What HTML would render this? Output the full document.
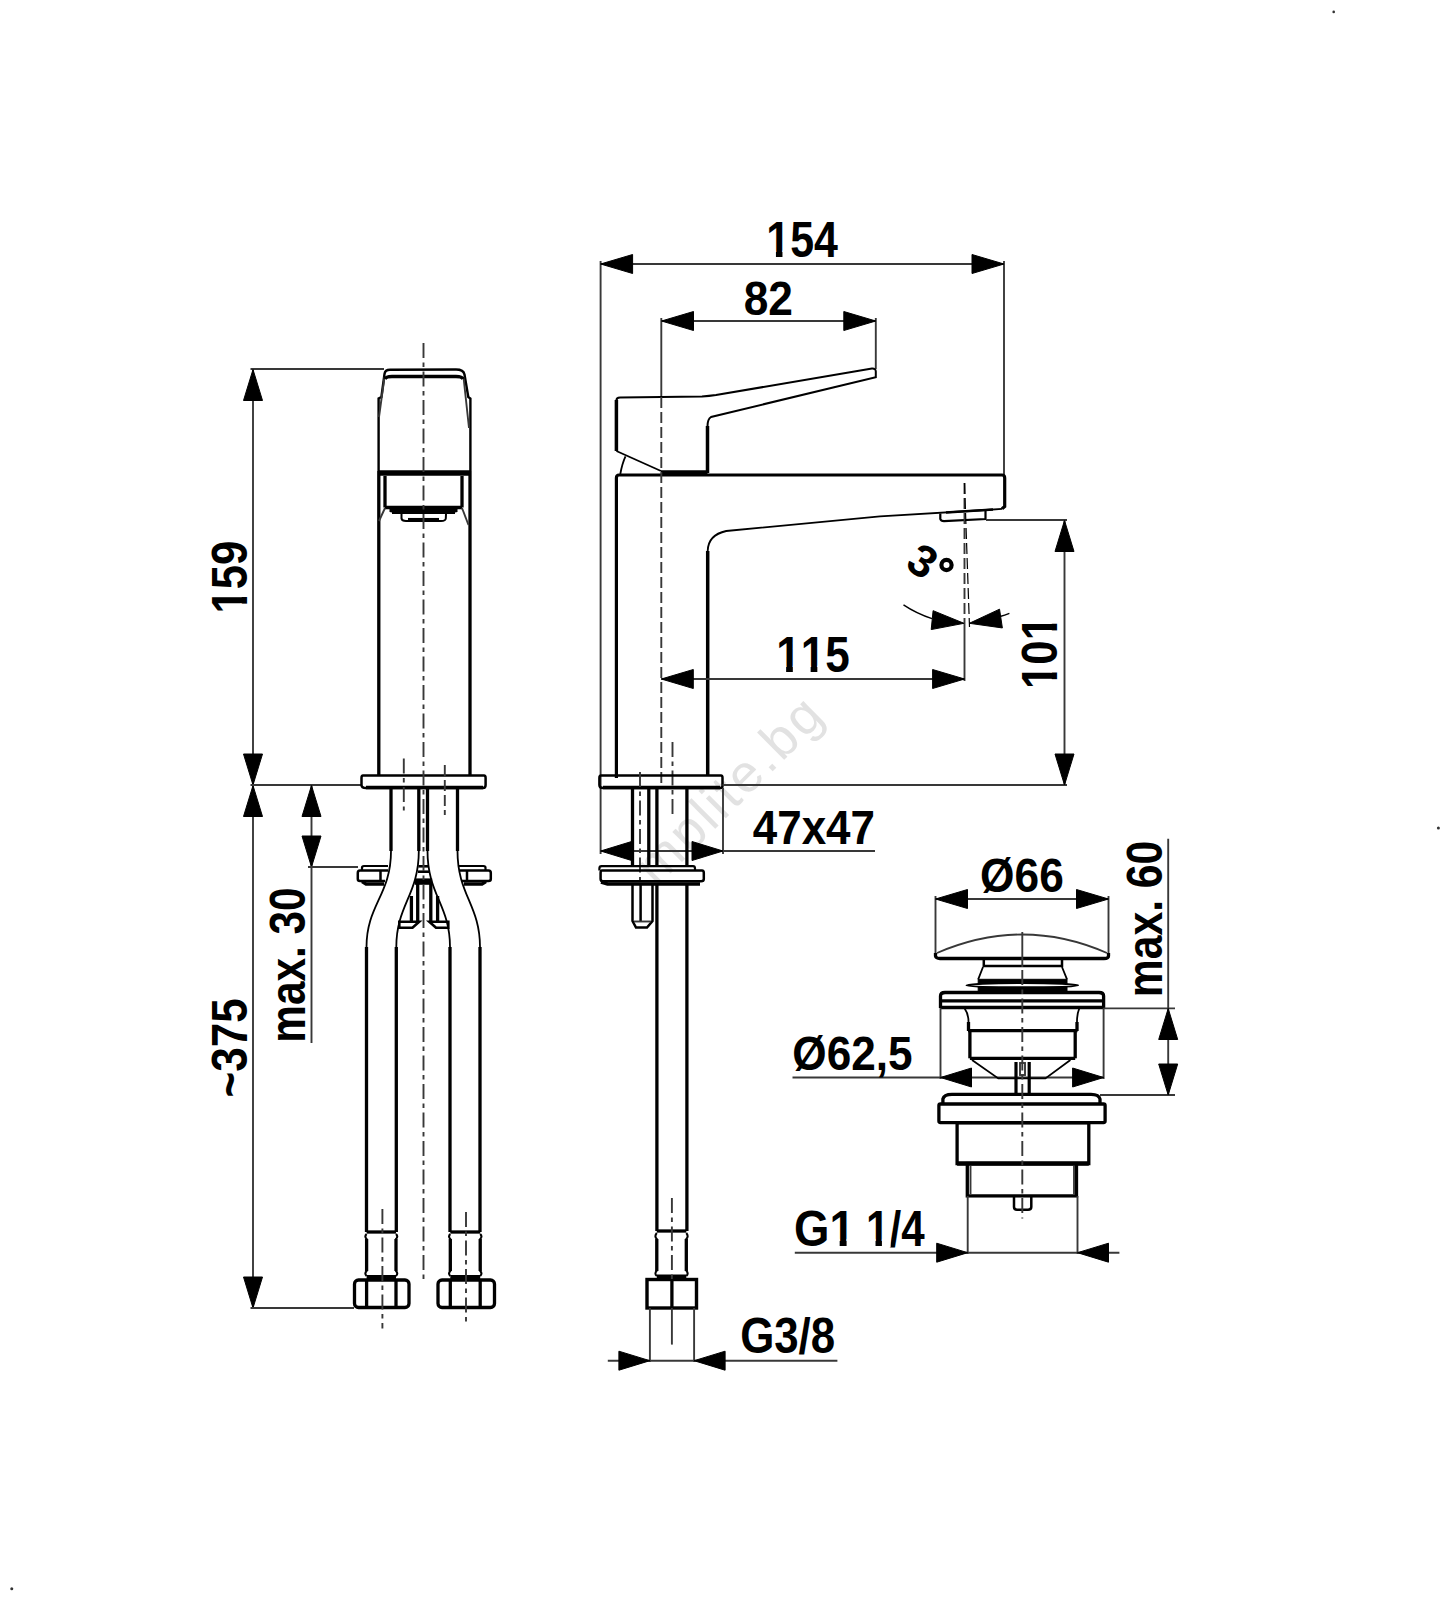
<!DOCTYPE html>
<html><head><meta charset="utf-8"><style>
html,body{margin:0;padding:0;background:#fff;}
svg{display:block;}
text{font-family:"Liberation Sans",sans-serif;font-weight:bold;fill:#000;stroke:none;font-kerning:none;font-feature-settings:"kern" 0;}
</style></head><body>
<svg width="1443" height="1600" viewBox="0 0 1443 1600">
<rect width="1443" height="1600" fill="#fff"/>
<text x="0" y="0" font-size="53" transform="translate(656.5,887.5) rotate(-45)" style="font-weight:normal;fill:#e2e2e2;letter-spacing:3px">mplite.bg</text>
<circle cx="1333.7" cy="11.9" r="1.3" fill="#333" stroke="none"/><circle cx="11.75" cy="1588.8" r="1.5" fill="#333" stroke="none"/><circle cx="1438.4" cy="828.1" r="1.5" fill="#333" stroke="none"/>
<g stroke="#000" fill="none" stroke-linecap="butt" stroke-linejoin="miter">
<line x1="250.5" y1="369" x2="384" y2="369" stroke-width="1.9"  stroke="#383838"/>
<line x1="253" y1="369" x2="253" y2="1308" stroke-width="1.9"  stroke="#383838"/>
<polygon points="253,369.5 262.5,400.5 243.5,400.5" fill="#000" stroke="#000" stroke-width="1" stroke-linejoin="round"/>
<polygon points="253,785 243.5,754 262.5,754" fill="#000" stroke="#000" stroke-width="1" stroke-linejoin="round"/>
<polygon points="253,785.5 262.5,816.5 243.5,816.5" fill="#000" stroke="#000" stroke-width="1" stroke-linejoin="round"/>
<polygon points="253,1308 243.5,1277 262.5,1277" fill="#000" stroke="#000" stroke-width="1" stroke-linejoin="round"/>
<line x1="250.5" y1="785" x2="361" y2="785" stroke-width="1.9"  stroke="#383838"/>
<line x1="250.5" y1="1308" x2="354" y2="1308" stroke-width="1.9"  stroke="#383838"/>
<line x1="311.5" y1="785" x2="311.5" y2="1043" stroke-width="1.9"  stroke="#383838"/>
<polygon points="311.5,785.5 321,816.5 302,816.5" fill="#000" stroke="#000" stroke-width="1" stroke-linejoin="round"/>
<polygon points="311.5,867 302,836 321,836" fill="#000" stroke="#000" stroke-width="1" stroke-linejoin="round"/>
<line x1="308" y1="867" x2="358" y2="867" stroke-width="1.9"  stroke="#383838"/>
<g transform="translate(247.0 613.49) rotate(-90) scale(0.9284 1.075)"><text x="0" y="0" font-size="47">159</text><rect x="0.94" y="-6.34" width="9.66" height="7.95" fill="#fff" stroke="none"/><rect x="17.74" y="-6.34" width="9.63" height="7.95" fill="#fff" stroke="none"/></g>
<g transform="translate(247.2 1097.58) rotate(-90) scale(0.9388 1.0781)"><text x="0" y="0" font-size="47">~375</text></g>
<g transform="translate(305.0 1042.7) rotate(-90) scale(0.9003 1.0625)"><text x="0" y="0" font-size="47">max. 30</text></g>
<path d="M378.6,471 L378.6,398.5 L381.4,397 L384.5,374 Q385,369.8 390,369.8 L456,369.5 Q463.5,369.5 464.5,374.5 L468.3,397 L470.4,398.5 L470.4,471" stroke-width="2.4" fill="none" />
<path d="M384.5,377 L379,417 M463.5,377 L469,428" stroke-width="1.9" fill="none"  stroke="#383838"/>
<path d="M385,379 Q386,376.5 392,376.5 L456,376.5 Q462,376.5 463,379" stroke-width="3.5" fill="none" />
<line x1="378.8" y1="473" x2="470" y2="473" stroke-width="5.5" />
<line x1="378.8" y1="471" x2="378.8" y2="776" stroke-width="3.3" />
<line x1="470" y1="471" x2="470" y2="776" stroke-width="3.3" />
<line x1="385" y1="476" x2="385" y2="507.5" stroke-width="3.3" />
<line x1="462" y1="476" x2="462" y2="507.5" stroke-width="3.3" />
<line x1="385" y1="507.5" x2="462" y2="507.5" stroke-width="3.5" />
<line x1="385" y1="508" x2="379" y2="521" stroke-width="1.9"  stroke="#383838"/>
<line x1="462" y1="508" x2="468.5" y2="525" stroke-width="1.9"  stroke="#383838"/>
<polygon points="389.5,507 457.5,507 457.5,512 455,512.5 455,514 392,514 392,512.5 389.5,512" fill="#000" stroke="none"/>
<path d="M401.5,514 L401.5,518.5 Q402,521 406,521 L441,521 Q445.5,521 445.8,518.5 L446,514" stroke-width="2" fill="none" />
<line x1="408" y1="519.6" x2="439" y2="519.6" stroke-width="3.3" />
<path d="M363,775.6 L484,775.6 Q485.6,775.6 485.6,778 L485.6,785 Q485.6,788 483,788 L366,788 Q361.5,788 361.5,785 L361.5,778 Q361.5,775.6 363,775.6 Z" stroke-width="2.5" fill="none" />
<line x1="366" y1="787.5" x2="483" y2="787.5" stroke-width="3.5" />
<line x1="403.8" y1="758.5" x2="403.8" y2="810.5" stroke-width="1.9" stroke-dasharray="15 4.5 4.5 4.5" stroke="#383838"/>
<line x1="444.8" y1="765" x2="444.8" y2="815" stroke-width="1.9" stroke-dasharray="11 4" stroke="#383838"/>
<line x1="391" y1="788" x2="391" y2="851" stroke-width="3.3" />
<line x1="418.8" y1="788" x2="418.8" y2="851" stroke-width="3.3" />
<line x1="427.5" y1="788" x2="427.5" y2="851" stroke-width="3.3" />
<line x1="457.5" y1="788" x2="457.5" y2="851" stroke-width="3.3" />
<path d="M391,851 C391,895 366.5,905 366.5,947" stroke-width="1.8" fill="none" />
<path d="M418.8,851 C418.8,895 396.3,905 396.3,947" stroke-width="1.8" fill="none" />
<path d="M427.5,851 C427.5,895 450,905 450,947" stroke-width="1.8" fill="none" />
<path d="M457.5,851 C457.5,895 480,905 480,947" stroke-width="1.8" fill="none" />
<path d="M362,870 L362,867.5 Q362,866 364,866 L388,866" stroke-width="2.2" fill="none" />
<path d="M388,870.5 L360,870.5 Q357.8,870.5 357.8,873 L357.8,879 Q357.8,881 360,881 L385,881" stroke-width="2.5" fill="none" />
<path d="M362,881.5 L366,884 L384,884" stroke-width="3.3" fill="none" />
<line x1="380.5" y1="870.5" x2="380.5" y2="881" stroke-width="2.5" />
<path d="M485.5,870 L485.5,867.5 Q485.5,866 483.5,866 L459,866" stroke-width="2.2" fill="none" />
<path d="M459,870.5 L488.5,870.5 Q490.8,870.5 490.8,873 L490.8,879 Q490.8,881 488.5,881 L462,881" stroke-width="2.5" fill="none" />
<path d="M486,881.5 L482,884 L464,884" stroke-width="3.3" fill="none" />
<line x1="467" y1="870.5" x2="467" y2="881" stroke-width="2.5" />
<line x1="414.8" y1="881.6" x2="432.2" y2="881.6" stroke-width="6.4" />
<line x1="417.7" y1="884" x2="417.7" y2="921.7" stroke-width="3.3" />
<line x1="430.8" y1="884" x2="430.8" y2="921.7" stroke-width="3.3" />
<line x1="411.4" y1="896" x2="411.4" y2="921.7" stroke-width="3.3" />
<line x1="437.6" y1="896" x2="437.6" y2="921.7" stroke-width="3.3" />
<path d="M399.3,921.7 L419.2,921.7 L412.5,927.8 L399.3,927.8 Z" stroke-width="2.6" fill="none" />
<path d="M448.3,921.7 L429.3,921.7 L436,927.8 L448.3,927.8 Z" stroke-width="2.6" fill="none" />
<line x1="418.4" y1="866.3" x2="428.8" y2="866.3" stroke-width="2.6" />
<line x1="418" y1="871.7" x2="429.2" y2="871.7" stroke-width="2.6" />
<line x1="366.5" y1="947" x2="366.5" y2="1232" stroke-width="3.3" />
<line x1="396.3" y1="947" x2="396.3" y2="1232" stroke-width="3.3" />
<line x1="450" y1="947" x2="450" y2="1232" stroke-width="3.3" />
<line x1="480" y1="947" x2="480" y2="1232" stroke-width="3.3" />
<line x1="366.6" y1="1232" x2="396" y2="1232" stroke-width="3.3" />
<path d="M366.6,1234 Q364.1,1236.5 366.6,1239 L366.6,1271 Q364.1,1273.5 366.6,1276" stroke-width="2" fill="none" />
<path d="M396,1234 Q398.5,1236.5 396,1239 L396,1271 Q398.5,1273.5 396,1276" stroke-width="2" fill="none" />
<line x1="366.6" y1="1239" x2="366.6" y2="1271" stroke-width="3.3" />
<line x1="396" y1="1239" x2="396" y2="1271" stroke-width="3.3" />
<line x1="366.6" y1="1277" x2="396" y2="1277" stroke-width="4" />
<line x1="450.3" y1="1232" x2="480.2" y2="1232" stroke-width="3.3" />
<path d="M450.3,1234 Q447.8,1236.5 450.3,1239 L450.3,1271 Q447.8,1273.5 450.3,1276" stroke-width="2" fill="none" />
<path d="M480.2,1234 Q482.7,1236.5 480.2,1239 L480.2,1271 Q482.7,1273.5 480.2,1276" stroke-width="2" fill="none" />
<line x1="450.3" y1="1239" x2="450.3" y2="1271" stroke-width="3.3" />
<line x1="480.2" y1="1239" x2="480.2" y2="1271" stroke-width="3.3" />
<line x1="450.3" y1="1277" x2="480.2" y2="1277" stroke-width="4" />
<rect x="354.5" y="1280" width="54.5" height="27.5" rx="4" stroke-width="3.3" fill="none" />
<line x1="366.6" y1="1280" x2="366.6" y2="1307.5" stroke-width="3.3" />
<line x1="396" y1="1280" x2="396" y2="1307.5" stroke-width="3.3" />
<rect x="438" y="1280" width="56.5" height="27.5" rx="4" stroke-width="3.3" fill="none" />
<line x1="450.3" y1="1280" x2="450.3" y2="1307.5" stroke-width="3.3" />
<line x1="480.2" y1="1280" x2="480.2" y2="1307.5" stroke-width="3.3" />
<line x1="382.4" y1="1209" x2="382.4" y2="1328.6" stroke-width="1.9" stroke-dasharray="15 4.5 4.5 4.5" stroke="#383838"/>
<line x1="466" y1="1212" x2="466" y2="1324" stroke-width="1.9" stroke-dasharray="15 4.5 4.5 4.5" stroke="#383838"/>
<line x1="423.5" y1="343" x2="423.5" y2="1282.5" stroke-width="1.9" stroke-dasharray="15 4.5 4.5 4.5" stroke="#383838"/>
<line x1="600.6" y1="261" x2="600.6" y2="854" stroke-width="1.9"  stroke="#383838"/>
<line x1="1004" y1="261" x2="1004" y2="475" stroke-width="1.9"  stroke="#383838"/>
<line x1="600.6" y1="264" x2="1004" y2="264" stroke-width="1.9"  stroke="#383838"/>
<polygon points="600.6,264 632.6,254.5 632.6,273.5" fill="#000" stroke="#000" stroke-width="1" stroke-linejoin="round"/>
<polygon points="1004,264 972,273.5 972,254.5" fill="#000" stroke="#000" stroke-width="1" stroke-linejoin="round"/>
<g transform="translate(766.26 257.2) scale(0.9133 1.0531)"><text x="0" y="0" font-size="47">154</text><rect x="0.94" y="-6.34" width="9.66" height="7.95" fill="#fff" stroke="none"/><rect x="17.74" y="-6.34" width="9.63" height="7.95" fill="#fff" stroke="none"/></g>
<line x1="661.3" y1="318" x2="661.3" y2="397" stroke-width="1.9"  stroke="#383838"/>
<line x1="875.8" y1="318" x2="875.8" y2="369" stroke-width="1.9"  stroke="#383838"/>
<line x1="661.3" y1="321" x2="875.8" y2="321" stroke-width="1.9"  stroke="#383838"/>
<polygon points="661.5,321 693.5,311.5 693.5,330.5" fill="#000" stroke="#000" stroke-width="1" stroke-linejoin="round"/>
<polygon points="875.8,321 843.8,330.5 843.8,311.5" fill="#000" stroke="#000" stroke-width="1" stroke-linejoin="round"/>
<g transform="translate(743.71 315.1) scale(0.9429 1.0375)"><text x="0" y="0" font-size="47">82</text></g>
<path d="M616.4,451 L616.4,400.5 Q616.4,397.5 620,397.5 L702,396.5 Q709,396 716,395 L872,368.6 Q875.8,368.4 875.8,371.5 L875.8,377.1 L711,417 Q707.5,419 707.5,426.5 L707.5,473" stroke-width="2" fill="none" />
<line x1="616.4" y1="400" x2="616.4" y2="451" stroke-width="3.5" />
<line x1="707.5" y1="426" x2="707.5" y2="473" stroke-width="3.5" />
<line x1="616.4" y1="451" x2="661" y2="471" stroke-width="1.8" />
<path d="M625.5,456.4 Q622.2,463.5 620.3,474" stroke-width="1.8" fill="none" />
<line x1="661" y1="473" x2="707.5" y2="473" stroke-width="5.5" />
<path d="M616.4,778 L616.4,478 Q616.4,475 619,475 L1002,475 Q1004.7,475 1004.7,478 L1004.7,506.5 L1002,508.8" stroke-width="3.2" fill="none" />
<path d="M1002,508.8 L986,510 L880,516.3 L726.2,531 Q708,535 707.7,551" stroke-width="1.8" fill="none" />
<line x1="707.7" y1="551" x2="707.7" y2="776" stroke-width="3.5" />
<path d="M940.3,513.5 L940.3,519 Q941,521.2 944,521.2 L985.5,519 L985.5,510.5" stroke-width="2.2" fill="none" />
<line x1="946" y1="512.6" x2="993" y2="509.6" stroke-width="2.5" />
<line x1="661.3" y1="397" x2="661.3" y2="785" stroke-width="1.9" stroke-dasharray="11 4" stroke="#383838"/>
<line x1="672.5" y1="742" x2="672.5" y2="815" stroke-width="1.9" stroke-dasharray="15 4.5 4.5 4.5" stroke="#383838"/>
<path d="M601,775.6 L721,775.6 Q722.5,775.6 722.5,778 L722.5,786 Q722.5,788 720,788 L603,788 Q599.4,788 599.4,785 L599.4,778 Q599.4,775.6 601,775.6 Z" stroke-width="2.5" fill="none" />
<line x1="603" y1="787.5" x2="720" y2="787.5" stroke-width="3.5" />
<line x1="986" y1="520" x2="1067" y2="520" stroke-width="1.9"  stroke="#383838"/>
<line x1="722.5" y1="785" x2="1067" y2="785" stroke-width="1.9"  stroke="#383838"/>
<line x1="1064.5" y1="520" x2="1064.5" y2="785" stroke-width="1.9"  stroke="#383838"/>
<polygon points="1064.5,520.5 1074,551.5 1055,551.5" fill="#000" stroke="#000" stroke-width="1" stroke-linejoin="round"/>
<polygon points="1064.5,785 1055,754 1074,754" fill="#000" stroke="#000" stroke-width="1" stroke-linejoin="round"/>
<g transform="translate(1057.2 689.05) rotate(-90) scale(0.9328 1.0563)"><text x="0" y="0" font-size="47">101</text><rect x="0.94" y="-6.34" width="9.66" height="7.95" fill="#fff" stroke="none"/><rect x="17.74" y="-6.34" width="9.63" height="7.95" fill="#fff" stroke="none"/><rect x="53.22" y="-6.34" width="9.66" height="7.95" fill="#fff" stroke="none"/><rect x="70.02" y="-6.34" width="9.63" height="7.95" fill="#fff" stroke="none"/></g>
<line x1="964.5" y1="483" x2="964.5" y2="620" stroke-width="1.9" stroke-dasharray="11 4" stroke="#383838"/>
<line x1="964.5" y1="620" x2="964.5" y2="681" stroke-width="1.9"  stroke="#383838"/>
<line x1="964.5" y1="483" x2="969.5" y2="627" stroke-width="1.2" stroke-dasharray="11 4"/>
<path d="M903.5,604.9 A113,113 0 0 0 932,618.6" stroke-width="1.4" fill="none" />
<path d="M1000,616.5 A113,113 0 0 0 1009.4,613.4" stroke-width="1.4" fill="none" />
<polygon points="964,623.3 931.21,629.57 933.1,610.66" fill="#000" stroke="#000" stroke-width="1" stroke-linejoin="round"/>
<polygon points="969.3,623.3 999.54,609.16 1002.36,627.95" fill="#000" stroke="#000" stroke-width="1" stroke-linejoin="round"/>
<text x="0" y="0" font-size="45" text-anchor="middle" transform="translate(914.3 574) rotate(33)">3</text>
<circle cx="946.5" cy="565" r="5.1" stroke-width="4.2" fill="none"/>
<line x1="661.3" y1="679" x2="964.6" y2="679" stroke-width="1.9"  stroke="#383838"/>
<polygon points="661.3,679 693.3,669.5 693.3,688.5" fill="#000" stroke="#000" stroke-width="1" stroke-linejoin="round"/>
<polygon points="964.6,679 932.6,688.5 932.6,669.5" fill="#000" stroke="#000" stroke-width="1" stroke-linejoin="round"/>
<g transform="translate(776.19 672.4) scale(0.9378 1.0562)"><text x="0" y="0" font-size="47">115</text><rect x="0.94" y="-6.34" width="9.66" height="7.95" fill="#fff" stroke="none"/><rect x="17.74" y="-6.34" width="9.63" height="7.95" fill="#fff" stroke="none"/><rect x="27.08" y="-6.34" width="9.66" height="7.95" fill="#fff" stroke="none"/><rect x="43.88" y="-6.34" width="9.63" height="7.95" fill="#fff" stroke="none"/></g>
<line x1="723" y1="788" x2="723" y2="854" stroke-width="1.9"  stroke="#383838"/>
<line x1="600.6" y1="851" x2="875" y2="851" stroke-width="1.9"  stroke="#383838"/>
<polygon points="600.6,851 631.6,841.5 631.6,860.5" fill="#000" stroke="#000" stroke-width="1" stroke-linejoin="round"/>
<polygon points="723,851 692,860.5 692,841.5" fill="#000" stroke="#000" stroke-width="1" stroke-linejoin="round"/>
<g transform="translate(752.76 844.3) scale(0.9352 1.0156)"><text x="0" y="0" font-size="47">47x47</text></g>
<line x1="632.5" y1="788" x2="632.5" y2="866" stroke-width="3.3" />
<line x1="648.8" y1="788" x2="648.8" y2="866" stroke-width="3.3" />
<line x1="640" y1="772" x2="640" y2="884" stroke-width="1.9" stroke-dasharray="15 4.5 4.5 4.5" stroke="#383838"/>
<line x1="656.9" y1="788" x2="656.9" y2="866" stroke-width="3.3" />
<line x1="686.9" y1="788" x2="686.9" y2="866" stroke-width="3.3" />
<line x1="656.9" y1="884" x2="656.9" y2="1231" stroke-width="3.3" />
<line x1="686.9" y1="884" x2="686.9" y2="1231" stroke-width="3.3" />
<path d="M601,866.2 L693,866.2 Q695,866.2 695,868.5 L695,870.6" stroke-width="2.2" fill="none" />
<path d="M599.4,870.6 L599.4,868.5 Q599.4,866.2 601.5,866.2" stroke-width="2.2" fill="none" />
<path d="M602,870.6 L702,870.6 Q703.8,870.6 703.8,873 L703.8,879 Q703.8,881.3 701,881.3 L603,881.3 Q600.6,881.3 600.6,879 L600.6,873 Q600.6,870.6 602,870.6 Z" stroke-width="2.5" fill="none" />
<path d="M601,882 L607.5,884 L700,884" stroke-width="3.5" fill="none" />
<path d="M632.5,884 L632.5,921 L636,927.5 L647,927.5 L652.5,921 L652.5,884" stroke-width="2.5" fill="none" />
<line x1="640.6" y1="884" x2="640.6" y2="921" stroke-width="2.5" />
<line x1="634" y1="921.5" x2="651" y2="921.5" stroke-width="1.9"  stroke="#383838"/>
<line x1="656.8" y1="1231" x2="686.3" y2="1231" stroke-width="3.3" />
<path d="M656.8,1233 Q654,1236.3 656.8,1239 L656.8,1270.5 Q654,1273.6 656.8,1276" stroke-width="2" fill="none" />
<path d="M686.3,1233 Q689,1236.3 686.3,1239 L686.3,1270.5 Q689,1273.6 686.3,1276" stroke-width="2" fill="none" />
<line x1="656.8" y1="1239" x2="656.8" y2="1271" stroke-width="3.3" />
<line x1="686.3" y1="1239" x2="686.3" y2="1271" stroke-width="3.3" />
<line x1="656.8" y1="1276.5" x2="686.3" y2="1276.5" stroke-width="4" />
<rect x="647" y="1279.5" width="49.5" height="28.5" rx="0" stroke-width="3.4" fill="none" />
<line x1="671.9" y1="1279.5" x2="671.9" y2="1308" stroke-width="3.3" />
<line x1="671.9" y1="1198" x2="671.9" y2="1279" stroke-width="1.9" stroke-dasharray="15 4.5 4.5 4.5" stroke="#383838"/>
<line x1="671.9" y1="1308" x2="671.9" y2="1344.6" stroke-width="1.9"  stroke="#383838"/>
<line x1="649.9" y1="1308" x2="649.9" y2="1362" stroke-width="1.9"  stroke="#383838"/>
<line x1="694.1" y1="1308" x2="694.1" y2="1362" stroke-width="1.9"  stroke="#383838"/>
<line x1="607.8" y1="1360.7" x2="837.4" y2="1360.7" stroke-width="1.9"  stroke="#383838"/>
<polygon points="649.9,1360.7 618.9,1370.2 618.9,1351.2" fill="#000" stroke="#000" stroke-width="1" stroke-linejoin="round"/>
<polygon points="694.1,1360.7 725.1,1351.2 725.1,1370.2" fill="#000" stroke="#000" stroke-width="1" stroke-linejoin="round"/>
<g transform="translate(740.13 1352.8) scale(0.9333 1.05)"><text x="0" y="0" font-size="47">G3/8</text></g>
<line x1="935.5" y1="896" x2="935.5" y2="957" stroke-width="1.9"  stroke="#383838"/>
<line x1="1108.5" y1="896" x2="1108.5" y2="957" stroke-width="1.9"  stroke="#383838"/>
<line x1="935.5" y1="899" x2="1108.5" y2="899" stroke-width="1.9"  stroke="#383838"/>
<polygon points="935.5,899 967.5,889.5 967.5,908.5" fill="#000" stroke="#000" stroke-width="1" stroke-linejoin="round"/>
<polygon points="1108.5,899 1076.5,908.5 1076.5,889.5" fill="#000" stroke="#000" stroke-width="1" stroke-linejoin="round"/>
<g transform="translate(980.12 891.6) scale(0.9424 1.02)"><text x="0" y="0" font-size="47">Ø66</text></g>
<path d="M937,953 Q1022.6,916 1107,953" stroke-width="1.9" fill="none"  stroke="#383838"/>
<path d="M935.5,953 L935.5,956 Q936,958.5 940,958.5 L1104,958.5 Q1108.5,958.5 1108.5,956 L1108.5,953" stroke-width="3.3" fill="none" />
<path d="M983.8,958.5 L983.8,966.1 L1062,966.1 L1062,958.5" stroke-width="2.5" fill="none" />
<path d="M983,967 L978.2,979.3 M1062,967 L1067,979.3" stroke-width="1.8" fill="none" />
<rect x="978.2" y="979.3" width="88.8" height="4.2" fill="#000"/>
<ellipse cx="1022.3" cy="985.3" rx="56" ry="2.2" fill="none" stroke-width="1.8"/>
<rect x="978.2" y="987" width="88.8" height="4.5" fill="#000"/>
<path d="M940.5,1008 L940.5,996 Q940.5,992.5 945,992.5 L1099,992.5 Q1103.6,992.5 1103.6,996 L1103.6,1008" stroke-width="3.3" fill="none" />
<line x1="940.5" y1="1000.8" x2="1103.6" y2="1000.8" stroke-width="3.3" />
<line x1="940.5" y1="1007.4" x2="1103.6" y2="1007.4" stroke-width="3.5" />
<line x1="1103.6" y1="1008.4" x2="1175" y2="1008.4" stroke-width="1.9"  stroke="#383838"/>
<line x1="940.5" y1="1008" x2="940.5" y2="1079" stroke-width="1.9"  stroke="#383838"/>
<line x1="1103.6" y1="1008" x2="1103.6" y2="1079" stroke-width="1.9"  stroke="#383838"/>
<line x1="792.5" y1="1077.5" x2="1103.6" y2="1077.5" stroke-width="1.9"  stroke="#383838"/>
<polygon points="940.5,1077.5 971.5,1068 971.5,1087" fill="#000" stroke="#000" stroke-width="1" stroke-linejoin="round"/>
<polygon points="1103.6,1077.5 1072.6,1087 1072.6,1068" fill="#000" stroke="#000" stroke-width="1" stroke-linejoin="round"/>
<g transform="translate(792.32 1069.6) scale(0.9392 1.03)"><text x="0" y="0" font-size="47">Ø62,5</text></g>
<path d="M964.4,1008 Q968.5,1014 968.5,1021.6 L968.5,1030" stroke-width="1.8" fill="none" />
<path d="M1079.4,1008 Q1077,1014 1077,1021.6 L1077,1030" stroke-width="1.8" fill="none" />
<line x1="968.5" y1="1022" x2="968.5" y2="1031" stroke-width="3.3" />
<line x1="1077" y1="1022" x2="1077" y2="1031" stroke-width="3.3" />
<line x1="968" y1="1030.6" x2="1077.5" y2="1030.6" stroke-width="3.3" />
<line x1="969.9" y1="1031" x2="969.9" y2="1058.3" stroke-width="3.3" />
<line x1="1075.2" y1="1031" x2="1075.2" y2="1058.3" stroke-width="3.3" />
<line x1="969.9" y1="1058.3" x2="1075.2" y2="1058.3" stroke-width="3.3" />
<path d="M972,1060 L998.3,1078.4 L1045.4,1078.4 L1070.4,1060" stroke-width="1.8" fill="none" />
<line x1="1016" y1="1062" x2="1016" y2="1094" stroke-width="3.2" />
<line x1="1029.2" y1="1062" x2="1029.2" y2="1094" stroke-width="3.2" />
<rect x="1020" y="1063" width="5" height="12" rx="0" stroke-width="1.9" fill="none"  stroke="#383838"/>
<path d="M942.9,1104 L942.9,1099 Q944,1094.3 952,1094.3 L1091,1094.3 Q1099,1094.3 1100,1099 L1100,1104" stroke-width="3.3" fill="none" />
<rect x="938.9" y="1104" width="166.2" height="18.6" rx="1.5" stroke-width="3.3" fill="none" />
<line x1="1100" y1="1095" x2="1175" y2="1095" stroke-width="1.9"  stroke="#383838"/>
<rect x="957.1" y="1122.8" width="131.7" height="40.8" rx="0" stroke-width="3.3" fill="none" />
<line x1="957.1" y1="1163.6" x2="1088.8" y2="1163.6" stroke-width="4.5" />
<rect x="967.3" y="1163.6" width="109.2" height="32.3" rx="0" stroke-width="3.3" fill="none" />
<line x1="970.5" y1="1166" x2="970.5" y2="1194" stroke-width="1.9"  stroke="#383838"/>
<line x1="1074" y1="1166" x2="1074" y2="1194" stroke-width="1.9"  stroke="#383838"/>
<path d="M1014,1196 L1014,1207 Q1014,1209.7 1017,1209.7 L1028,1209.7 Q1031.3,1209.7 1031.3,1207 L1031.3,1196" stroke-width="2.5" fill="none" />
<line x1="1022.3" y1="932" x2="1022.3" y2="967" stroke-width="1.9"  stroke="#383838"/>
<line x1="1022.3" y1="970" x2="1022.3" y2="1218.4" stroke-width="1.9" stroke-dasharray="15 4.5 4.5 4.5" stroke="#383838"/>
<line x1="967.7" y1="1196" x2="967.7" y2="1254" stroke-width="1.9"  stroke="#383838"/>
<line x1="1077.5" y1="1196" x2="1077.5" y2="1254" stroke-width="1.9"  stroke="#383838"/>
<line x1="794.8" y1="1252.7" x2="1119.4" y2="1252.7" stroke-width="1.9"  stroke="#383838"/>
<polygon points="967.7,1252.7 936.7,1262.2 936.7,1243.2" fill="#000" stroke="#000" stroke-width="1" stroke-linejoin="round"/>
<polygon points="1077.5,1252.7 1108.5,1243.2 1108.5,1262.2" fill="#000" stroke="#000" stroke-width="1" stroke-linejoin="round"/>
<g transform="translate(793.96 1245.6) scale(0.9692 1.06)"><text x="0" y="0" font-size="47">G1</text><rect x="37.50" y="-6.34" width="9.66" height="7.95" fill="#fff" stroke="none"/><rect x="54.30" y="-6.34" width="9.63" height="7.95" fill="#fff" stroke="none"/></g>
<g transform="translate(866.01 1245.6) scale(0.8968 1.06)"><text x="0" y="0" font-size="47">1/4</text><rect x="0.94" y="-6.34" width="9.66" height="7.95" fill="#fff" stroke="none"/><rect x="17.74" y="-6.34" width="9.63" height="7.95" fill="#fff" stroke="none"/></g>
<line x1="1168.2" y1="838.7" x2="1168.2" y2="1095" stroke-width="1.9"  stroke="#383838"/>
<polygon points="1168.2,1008.5 1177.7,1039.5 1158.7,1039.5" fill="#000" stroke="#000" stroke-width="1" stroke-linejoin="round"/>
<polygon points="1168.2,1095 1158.7,1064 1177.7,1064" fill="#000" stroke="#000" stroke-width="1" stroke-linejoin="round"/>
<g transform="translate(1162.1 997.22) rotate(-90) scale(0.9077 1.05)"><text x="0" y="0" font-size="47">max. 60</text></g>
</g>
</svg></body></html>
